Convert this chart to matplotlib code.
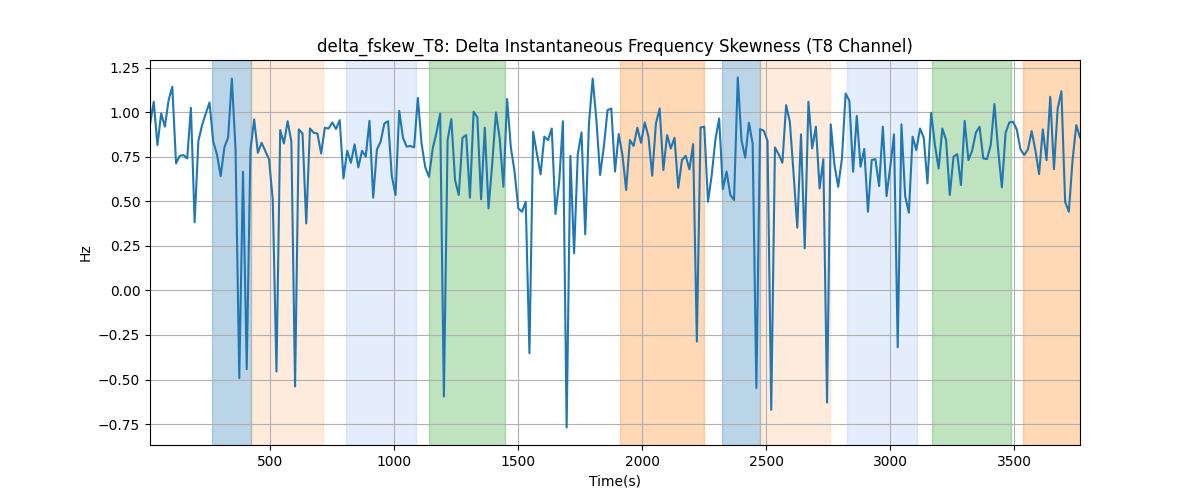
import matplotlib
matplotlib.use("Agg")
import matplotlib.pyplot as plt
import numpy as np

# delta skewness, one sample every 15 s
skew = [0.93, 1.058, 0.815, 0.992, 0.918, 1.067, 1.142, 0.712, 0.755, 0.759,
        0.74, 1.024, 0.382, 0.837, 0.927, 0.992, 1.054, 0.834, 0.763, 0.641,
        0.802, 0.858, 1.188, 0.787, -0.492, 0.666, -0.442, 0.787, 0.959, 0.772,
        0.828, 0.781, 0.735, 0.507, -0.455, 0.899, 0.824, 0.949, 0.834, -0.539,
        0.903, 0.88, 0.376, 0.908, 0.884, 0.88, 0.768, 0.912, 0.908, 0.942,
        0.905, 0.955, 0.628, 0.783, 0.716, 0.819, 0.69, 0.783, 0.75, 0.951,
        0.52, 0.79, 0.834, 0.936, 0.949, 0.641, 0.535, 1.007, 0.856, 0.806,
        0.81, 0.802, 1.08, 0.824, 0.69, 0.637, 0.796, 0.884, 0.992, -0.595,
        0.843, 0.961, 0.619, 0.535, 0.856, 0.871, 0.52, 1.002, 0.97, 0.511,
        0.912, 0.46, 0.712, 0.998, 0.852, 0.581, 1.073, 0.802, 0.666, 0.46,
        0.441, 0.497, -0.352, 0.89, 0.768, 0.651, 0.862, 0.843, 0.908, 0.428,
        0.61, 0.949, -0.769, 0.755, 0.208, 0.764, 0.886, 0.314, 0.936, 1.188,
        0.955, 0.647, 0.806, 1.011, 1.02, 0.666, 0.877, 0.759, 0.563, 0.843,
        0.81, 0.912, 0.828, 0.942, 0.862, 0.643, 0.936, 1.02, 0.675, 0.871,
        0.796, 0.856, 0.575, 0.731, 0.755, 0.679, 0.82, -0.287, 0.914, 0.918,
        0.497, 0.647, 0.847, 0.964, 0.568, 0.666, 0.535, 0.507, 1.194, 0.843,
        0.744, 0.94, 0.824, -0.548, 0.905, 0.895, 0.839, -0.67, 0.802, 0.763,
        0.716, 1.039, 0.946, 0.656, 0.352, 0.875, 0.236, 1.058, 0.796, 0.918,
        0.572, 0.736, -0.629, 0.931, 0.703, 0.581, 0.74, 1.104, 1.063, 0.666,
        0.979, 0.694, 0.793, 0.441, 0.731, 0.736, 0.585, 0.918, 0.529, 0.694,
        0.875, -0.319, 0.931, 0.529, 0.436, 0.862, 0.787, 0.908, 0.856, 0.6,
        0.996, 0.815, 0.684, 0.908, 0.843, 0.535, 0.75, 0.764, 0.591, 0.951,
        0.731, 0.783, 0.884, 0.918, 0.74, 0.736, 0.815, 1.045, 0.787, 0.578,
        0.884, 0.942, 0.946, 0.903, 0.791, 0.759, 0.791, 0.893, 0.787, 0.652,
        0.903, 0.731, 1.086, 0.68, 1.02, 1.117, 0.497, 0.441, 0.731, 0.927,
        0.858]
t = np.arange(1, len(skew) + 1) * 15

# shaded segments (start, end, colour, alpha)
seg_start = [265, 421, 805, 1140, 1910, 2321, 2476, 2825, 3168, 3535]
seg_end = [421, 711, 1087, 1445, 2248, 2476, 2757, 3106, 3485, 3800]
seg_color = ["C0", "C1", "cornflowerblue", "C2", "C1",
             "C0", "C1", "cornflowerblue", "C2", "C1"]
seg_alpha = [0.3, 0.15, 0.17, 0.3, 0.3, 0.3, 0.15, 0.17, 0.3, 0.3]

fig, ax = plt.subplots(figsize=(12, 5))
for s, e, c, a in zip(seg_start, seg_end, seg_color, seg_alpha):
    ax.axvspan(s, e, color=c, alpha=a)
ax.plot(t, skew, color="C0")
ax.set_xlim(t[0], t[-1])
ax.set_title("delta_fskew_T8: Delta Instantaneous Frequency Skewness (T8 Channel)")
ax.set_xlabel("Time(s)")
ax.set_ylabel("Hz")
ax.grid(True)
plt.savefig("out.png")
